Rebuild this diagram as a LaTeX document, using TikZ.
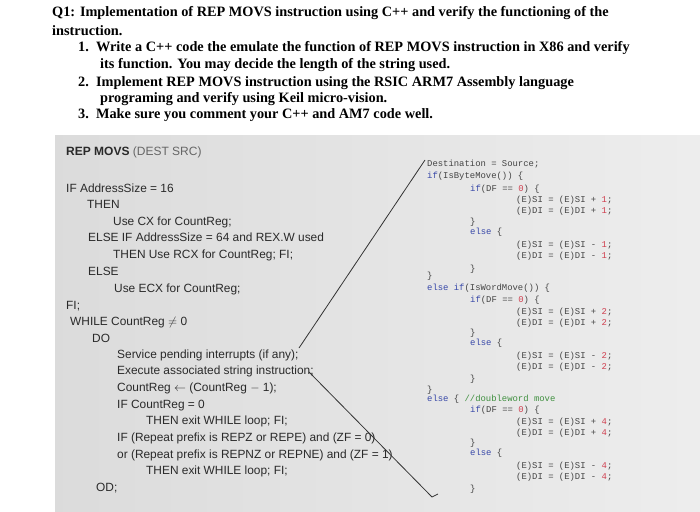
\documentclass[tikz,border=0pt]{standalone}
\usepackage{fontspec}
\setmainfont{Liberation Serif}
\setsansfont{Liberation Sans}
\setmonofont{Liberation Mono}
\definecolor{kwc}{HTML}{3848A8}
\definecolor{numc}{HTML}{D04050}
\definecolor{comc}{HTML}{409040}
\definecolor{codec}{HTML}{454545}
\definecolor{txtc}{HTML}{2A2A2A}
\newcommand\kw[1]{\textcolor{kwc}{#1}}
\newcommand\nm[1]{\textcolor{numc}{#1}}
\tikzset{
 q/.style={anchor=base west,inner sep=0,font=\fontsize{14.3}{16}\selectfont\bfseries,text=black},
 ps/.style={anchor=base west,inner sep=0,font=\sffamily\fontsize{11.9}{14}\selectfont,text=txtc},
 cd/.style={anchor=base west,inner sep=0,font=\ttfamily\fontsize{8.9}{10}\selectfont,text=codec},
}
\begin{document}
\begin{tikzpicture}[x=1pt,y=-1pt]
\useasboundingbox (0,0) rectangle (700,511);
\fill[white] (0,0) rectangle (700,511);
\fill[left color=gray!28,right color=gray!14] (55,135) rectangle (700,511);
% question
\node[q] (t1) at (52,17) {Q1: Implementation of REP MOVS instruction using C++ and verify the functioning of the};
\node[q] (t2) at (52,35) {instruction.};
\node[q] (t3) at (78,52) {1.\ \ Write a C++ code the emulate the function of REP MOVS instruction in X86 and verify};
\node[q] (t4) at (100,68) {its function. You may decide the length of the string used.};
\node[q] (t5) at (78,86) {2.\ \ Implement REP MOVS instruction using the RSIC ARM7 Assembly language};
\node[q] (t6) at (100,102) {programing and verify using Keil micro-vision.};
\node[q] (t7) at (78,118) {3.\ \ Make sure you comment your C++ and AM7 code well.};
% pseudo code
\node[ps,font=\sffamily\bfseries\fontsize{12}{14}\selectfont] (p0) at (66,155) {REP MOVS \textmd{\textcolor{gray!80!black}{(DEST SRC)}}};
\node[ps] (p1) at (66,192) {IF AddressSize = 16};
\node[ps] (p2) at (87,208) {THEN};
\node[ps] (p3) at (113,225) {Use CX for CountReg;};
\node[ps] (p4) at (88,241) {ELSE IF AddressSize = 64 and REX.W used};
\node[ps] (p5) at (113,258) {THEN Use RCX for CountReg; FI;};
\node[ps] (p6) at (88,275) {ELSE};
\node[ps] (p7) at (114,292) {Use ECX for CountReg;};
\node[ps] (p8) at (66,309) {FI;};
\node[ps] (p9) at (70,325) {WHILE CountReg $\neq$ 0};
\node[ps] (p10) at (92,342) {DO};
\node[ps] (p11) at (117,358) {Service pending interrupts (if any);};
\node[ps] (p12) at (117,374) {Execute associated string instruction;};
\node[ps] (p13) at (117,391) {CountReg $\leftarrow$ (CountReg $-$ 1);};
\node[ps] (p14) at (117,408) {IF CountReg = 0};
\node[ps] (p15) at (146,424) {THEN exit WHILE loop; FI;};
\node[ps] (p16) at (117,441) {IF (Repeat prefix is REPZ or REPE) and (ZF = 0)};
\node[ps] (p17) at (117,458) {or (Repeat prefix is REPNZ or REPNE) and (ZF = 1)};
\node[ps] (p18) at (146,474) {THEN exit WHILE loop; FI;};
\node[ps] (p19) at (96,491) {OD;};
% code
\node[cd] (c1) at (427,166) {Destination = Source;};
\node[cd] (c2) at (427,178) {\kw{if}(IsByteMove()) \{};
\node[cd] (c3) at (470,191) {\kw{if}(DF == \nm{0}) \{};
\node[cd] (c4) at (516,202) {(E)SI = (E)SI + \nm{1};};
\node[cd] (c5) at (516,213) {(E)DI = (E)DI + \nm{1};};
\node[cd] (c6) at (470,224) {\}};
\node[cd] (c7) at (470,234) {\kw{else} \{};
\node[cd] (c8) at (516,247) {(E)SI = (E)SI - \nm{1};};
\node[cd] (c9) at (516,258) {(E)DI = (E)DI - \nm{1};};
\node[cd] (c10) at (470,271) {\}};
\node[cd] (c11) at (427,278) {\}};
\node[cd] (c12) at (427,290) {\kw{else if}(IsWordMove()) \{};
\node[cd] (c13) at (470,302) {\kw{if}(DF == \nm{0}) \{};
\node[cd] (c14) at (516,314) {(E)SI = (E)SI + \nm{2};};
\node[cd] (c15) at (516,325) {(E)DI = (E)DI + \nm{2};};
\node[cd] (c16) at (470,335) {\}};
\node[cd] (c17) at (470,345) {\kw{else} \{};
\node[cd] (c18) at (516,358) {(E)SI = (E)SI - \nm{2};};
\node[cd] (c19) at (516,369) {(E)DI = (E)DI - \nm{2};};
\node[cd] (c20) at (470,381) {\}};
\node[cd] (c21) at (427,392) {\}};
\node[cd] (c22) at (427,401) {\kw{else} \{ \textcolor{comc}{//doubleword move}};
\node[cd] (c23) at (470,412) {\kw{if}(DF == \nm{0}) \{};
\node[cd] (c24) at (516,424) {(E)SI = (E)SI + \nm{4};};
\node[cd] (c25) at (516,435) {(E)DI = (E)DI + \nm{4};};
\node[cd] (c26) at (470,445) {\}};
\node[cd] (c27) at (470,455) {\kw{else} \{};
\node[cd] (c28) at (516,468) {(E)SI = (E)SI - \nm{4};};
\node[cd] (c29) at (516,479) {(E)DI = (E)DI - \nm{4};};
\node[cd] (c30) at (470,491) {\}};
% strokes
\coordinate (a1) at (425,160);
\coordinate (a2) at (299,348);
\coordinate (b1) at (309,372);
\coordinate (b2) at (432,497);
\draw[black!80,line width=0.8pt] (a1) -- (a2);
\draw[black!80,line width=0.8pt] (b1) -- (b2) -- ++(6,-3);
\end{tikzpicture}
\end{document}
